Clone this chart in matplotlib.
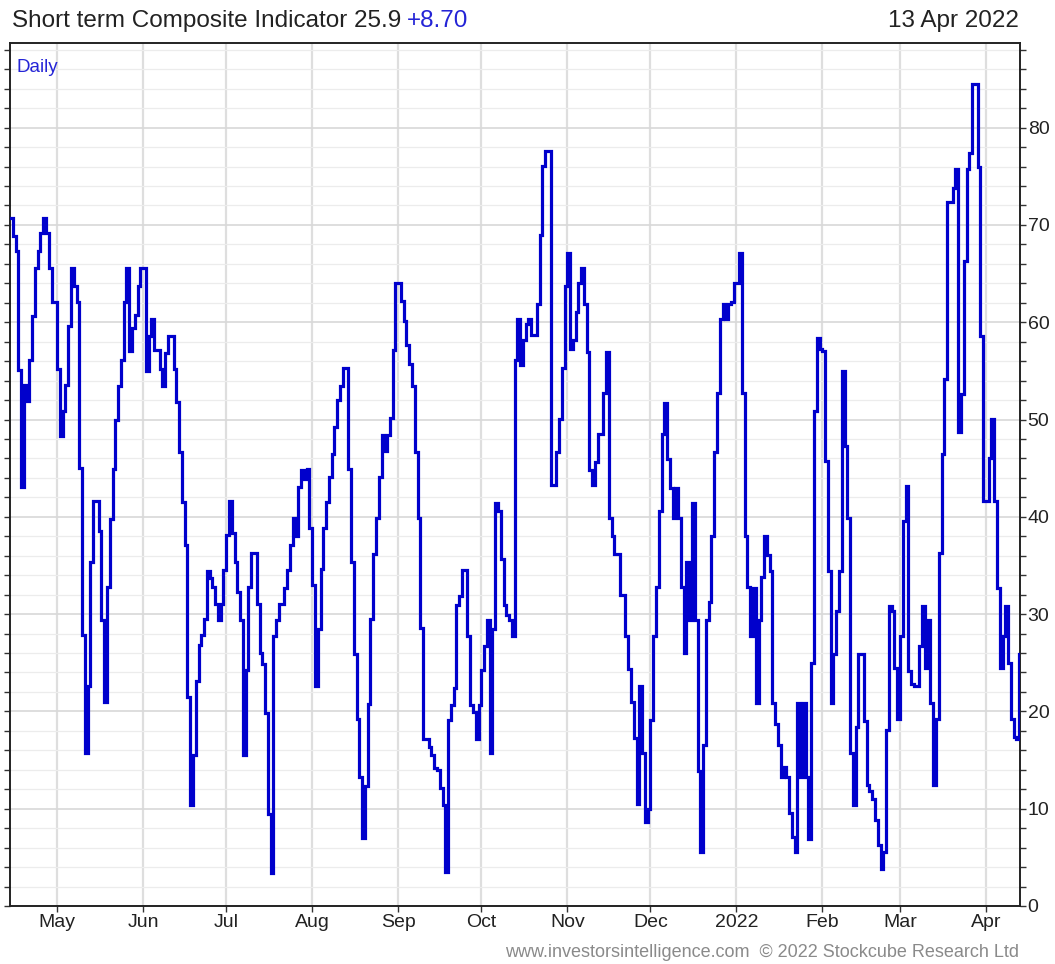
import matplotlib
matplotlib.use("Agg")
import matplotlib.pyplot as plt
from matplotlib.ticker import MultipleLocator
import numpy as np
import pandas as pd

plt.rcParams["font.family"] = ["Liberation Sans", "DejaVu Sans"]

# daily readings of the indicator, one list per calendar month
apr21 = [70.7, 68.9, 67.3, 55.1, 43.1, 53.6, 51.9, 56.1, 60.6, 65.6, 67.3, 69.2,
         70.7, 69.2, 65.6, 62.1, 62.1]
may21 = [55.2, 48.3, 50.9, 53.6, 59.6, 65.6, 63.7, 62.1, 45.0, 27.9, 15.7, 22.6,
         35.4, 41.6, 41.6, 38.5, 29.4, 21.0, 32.8, 39.8, 44.9, 50.0, 53.4, 56.1,
         62.1, 65.6, 57.0, 59.4, 60.7, 63.7, 65.6]
jun21 = [65.6, 55.0, 58.6, 60.3, 57.1, 57.1, 55.2, 53.4, 56.8, 58.6, 58.6, 55.2,
         51.8, 46.7, 41.5, 37.1, 21.5, 10.4, 15.5, 23.1, 26.8, 27.9, 29.5, 34.4,
         33.7, 32.8, 31.0, 29.4, 31.0, 34.5]
jul21 = [38.1, 41.6, 38.3, 35.4, 32.3, 29.4, 15.5, 24.3, 32.8, 36.3, 36.3, 31.0,
         26.0, 24.9, 19.8, 9.5, 3.4, 27.7, 29.4, 31.0, 31.0, 32.7, 34.5, 37.1,
         39.9, 38.0, 43.1, 44.8, 43.9, 44.9, 38.8]
aug21 = [33.0, 22.6, 28.5, 34.6, 38.8, 41.5, 44.1, 46.5, 49.2, 52.0, 53.4, 55.3,
         55.3, 44.9, 35.4, 25.9, 19.2, 13.3, 7.0, 12.3, 20.8, 29.5, 36.2, 39.9,
         44.1, 48.4, 46.8, 48.4, 50.2, 57.1, 64.0]
sep21 = [64.0, 62.2, 60.1, 57.7, 55.7, 53.4, 46.7, 39.9, 28.6, 17.2, 17.2, 16.3,
         15.5, 14.2, 14.0, 12.1, 10.4, 3.5, 19.1, 20.7, 22.4, 30.9, 31.9, 34.5,
         34.5, 27.7, 20.7, 19.9, 17.2, 20.7]
oct21 = [24.3, 26.7, 29.4, 15.7, 28.5, 41.4, 40.6, 35.7, 30.9, 29.9, 29.4, 27.8,
         56.1, 60.3, 55.6, 58.2, 59.8, 60.3, 58.7, 58.7, 61.9, 69.0, 76.1, 77.6,
         77.6, 43.3, 43.3, 46.7, 50.1, 55.3, 63.7]
nov21 = [67.1, 57.2, 58.2, 61.1, 64.0, 65.6, 61.9, 56.9, 44.8, 43.3, 45.6, 48.5,
         48.5, 52.7, 56.9, 39.9, 38.0, 36.2, 36.2, 32.0, 32.0, 27.8, 24.4, 21.0,
         17.3, 10.5, 22.6, 15.7, 8.6, 10.0]
dec21 = [19.1, 27.8, 32.8, 40.6, 48.5, 51.7, 45.9, 43.0, 39.9, 43.0, 39.9, 32.8,
         26.0, 35.4, 29.4, 41.4, 29.4, 13.9, 5.5, 16.5, 29.4, 31.2, 38.0, 46.7,
         52.7, 60.3, 61.9, 60.3, 61.9, 62.1, 64.0]
jan22 = [64.0, 67.1, 52.7, 38.0, 32.8, 27.8, 32.7, 20.9, 29.4, 33.8, 38.0, 36.1,
         34.4, 20.9, 18.7, 16.5, 13.3, 14.3, 13.3, 9.6, 7.1, 5.5, 20.9, 13.3,
         20.9, 13.3, 6.9, 25.0, 50.9, 58.4, 57.3]
feb22 = [57.0, 45.7, 34.4, 20.9, 25.9, 30.3, 34.4, 55.0, 47.3, 39.9, 15.7, 10.4,
         18.4, 25.9, 25.9, 19.0, 12.4, 11.8, 11.0, 8.8, 6.3, 3.8, 5.5, 18.1,
         30.8, 30.3, 24.5, 19.2]
mar22 = [27.8, 39.6, 43.2, 24.2, 22.8, 22.6, 22.6, 26.7, 30.8, 24.5, 29.4, 20.9,
         12.4, 19.2, 36.3, 46.5, 54.2, 72.4, 72.4, 73.8, 75.7, 48.7, 52.6, 66.3,
         75.7, 77.4, 84.5, 84.5, 76.0, 58.6, 41.6]
apr22 = [41.6, 46.0, 50.1, 41.6, 32.7, 24.5, 27.8, 30.8, 25.0, 19.2, 17.4, 17.2,
         25.9]

start_date = "2021-04-14"
month_starts = ["2021-05-01", "2021-06-01", "2021-07-01", "2021-08-01",
                "2021-09-01", "2021-10-01", "2021-11-01", "2021-12-01",
                "2022-01-01", "2022-02-01", "2022-03-01", "2022-04-01"]
month_labels = ["May", "Jun", "Jul", "Aug", "Sep", "Oct", "Nov", "Dec",
                "2022", "Feb", "Mar", "Apr"]

last_value = 25.9
day_change = 8.70
chart_date = "13 Apr 2022"

line_blue = "#0000cc"
text_blue = "#2424d6"
W, H = 1055, 964


def fy(y):
    # pixel row from the top -> figure fraction
    return 1 - y / H


def plot_indicator():
    values = np.array(apr21 + may21 + jun21 + jul21 + aug21 + sep21 + oct21
                      + nov21 + dec21 + jan22 + feb22 + mar22 + apr22)
    dates = pd.date_range(start_date, periods=len(values), freq="D")

    fig = plt.figure(figsize=(W / 100, H / 100), dpi=100)
    ax = fig.add_axes([10 / W, fy(906), 1010 / W, 863 / H])

    ax.plot(dates, values, drawstyle="steps-post", color=line_blue, lw=2.3,
            solid_joinstyle="miter", zorder=3)

    ax.set_xlim(dates[0], dates[-1] + pd.Timedelta(hours=7))
    ax.set_ylim(0, 88.7)

    ax.set_xticks(pd.to_datetime(month_starts))
    ax.set_xticklabels(month_labels)
    ax.yaxis.set_major_locator(MultipleLocator(10))
    ax.yaxis.set_minor_locator(MultipleLocator(2))

    ax.grid(True, axis="x", which="major", color="#dedede", lw=1.6)
    ax.grid(True, axis="y", which="major", color="#d8d8d8", lw=1.2)
    ax.grid(True, axis="y", which="minor", color="#ececec", lw=0.9)
    ax.set_axisbelow(True)

    ax.tick_params(axis="y", which="both", left=True, right=True,
                   labelleft=False, labelright=True, direction="out",
                   length=4, width=1, color="#333333", pad=1.5,
                   labelsize=14, labelcolor="#222222")
    ax.tick_params(axis="x", which="major", direction="out", length=4,
                   width=1, color="#333333", pad=2, labelsize=14,
                   labelcolor="#222222")
    for s in ax.spines.values():
        s.set_color("#222222")
        s.set_linewidth(1.4)

    # header
    t = fig.text(12 / W, fy(27), "Short term Composite Indicator %.1f" % last_value,
                 fontsize=17.5, color="#222222", va="baseline", ha="left")
    fig.canvas.draw()
    bb = t.get_window_extent()
    fig.text((bb.x1 + 6) / W, fy(27), "+%.2f" % day_change,
             fontsize=17.5, color=text_blue, va="baseline", ha="left")
    fig.text(1019 / W, fy(27), chart_date, fontsize=17.5, color="#222222",
             va="baseline", ha="right")

    fig.text(16 / W, fy(72), "Daily", fontsize=13.5, color=text_blue,
             va="baseline", ha="left")
    fig.text(1019 / W, fy(957), "www.investorsintelligence.com  \u00a9 2022 Stockcube Research Ltd",
             fontsize=13, color="#8a8a8a", va="baseline", ha="right")

    fig.savefig("out.png", dpi=100)
    return None


if __name__ == "__main__":
    plot_indicator()
